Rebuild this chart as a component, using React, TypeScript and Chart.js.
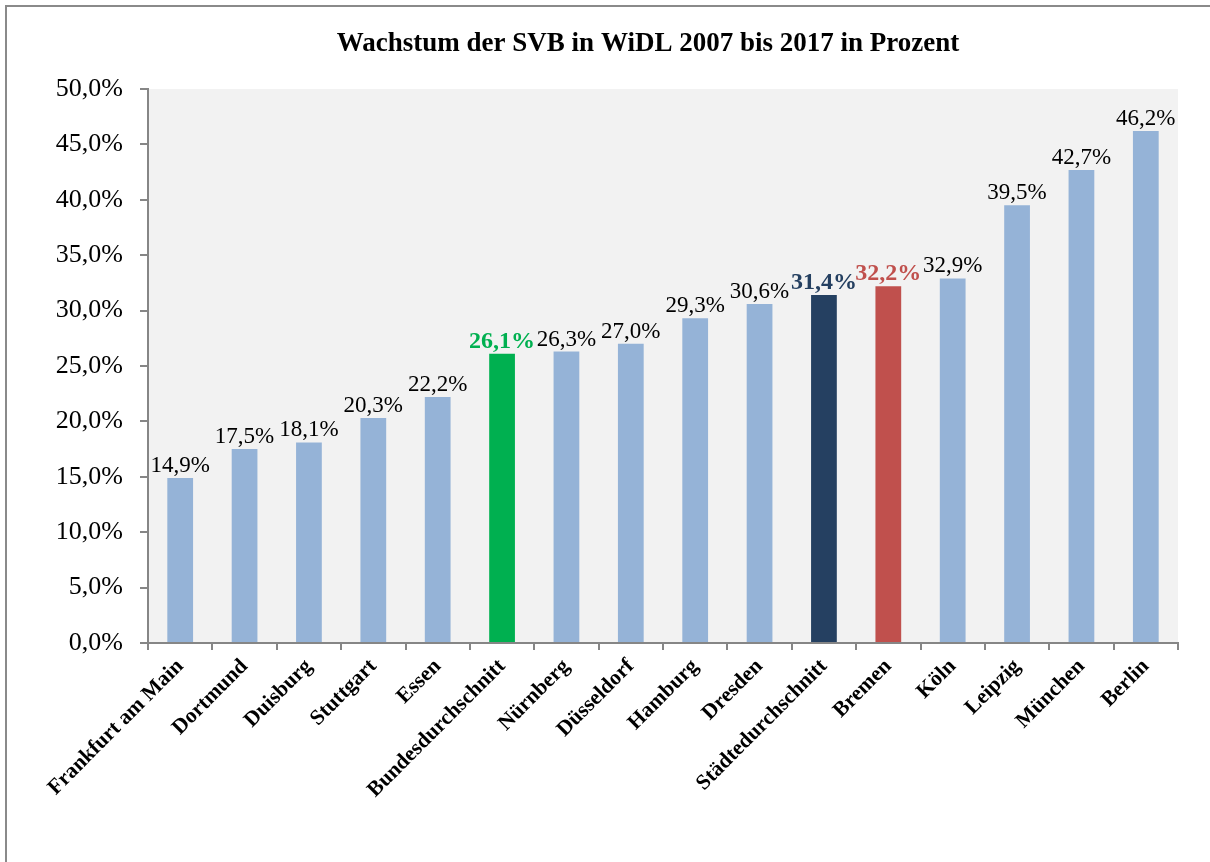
import React, { useEffect, useRef } from "react";
import { Chart, registerables } from "chart.js";

Chart.register(...registerables);

const TITLE = "Wachstum der SVB in WiDL 2007 bis 2017 in Prozent";

const categories = [
  "Frankfurt am Main",
  "Dortmund",
  "Duisburg",
  "Stuttgart",
  "Essen",
  "Bundesdurchschnitt",
  "Nürnberg",
  "Düsseldorf",
  "Hamburg",
  "Dresden",
  "Städtedurchschnitt",
  "Bremen",
  "Köln",
  "Leipzig",
  "München",
  "Berlin",
];

const growthValues = [14.9, 17.5, 18.1, 20.3, 22.2, 26.1, 26.3, 27.0, 29.3, 30.6, 31.4, 32.2, 32.9, 39.5, 42.7, 46.2];

const yTicks = [0, 5, 10, 15, 20, 25, 30, 35, 40, 45, 50];

const BLUE = "#95b3d7";
const GREEN = "#00b050";
const NAVY = "#254061";
const RED = "#c0504d";

const barColors = categories.map((c) =>
  c === "Bundesdurchschnitt" ? GREEN : c === "Städtedurchschnitt" ? NAVY : c === "Bremen" ? RED : BLUE
);
const labelColors = categories.map((c) =>
  c === "Bundesdurchschnitt" ? GREEN : c === "Städtedurchschnitt" ? NAVY : c === "Bremen" ? RED : "#000000"
);
const labelBold = categories.map((c) => c === "Bundesdurchschnitt" || c === "Städtedurchschnitt" || c === "Bremen");

const fmt = (v: number) => v.toFixed(1).replace(".", ",") + "%";

const SERIF = "'Liberation Serif', 'Times New Roman', serif";
const AXIS = "#868686";

const framePlugin = {
  id: "frame",
  beforeDraw(chart: any) {
    const { ctx, chartArea, width, height } = chart;
    ctx.save();
    ctx.fillStyle = "#ffffff";
    ctx.fillRect(0, 0, width, height);
    ctx.fillStyle = "#f2f2f2";
    ctx.fillRect(chartArea.left, chartArea.top, chartArea.right - chartArea.left, chartArea.bottom - chartArea.top);
    ctx.strokeStyle = "#8a8a8a";
    ctx.lineWidth = 2;
    ctx.beginPath();
    ctx.moveTo(6, height + 2);
    ctx.lineTo(6, 6);
    ctx.lineTo(width + 2, 6);
    ctx.stroke();
    ctx.restore();
  },
  afterDraw(chart: any) {
    const { ctx } = chart;
    ctx.save();
    ctx.fillStyle = "#000000";
    ctx.font = `bold 27px ${SERIF}`;
    ctx.textAlign = "center";
    ctx.textBaseline = "alphabetic";
    ctx.fillText(TITLE, 648, 51);
    ctx.restore();
  },
};

const labelPlugin = {
  id: "valueLabels",
  afterDatasetsDraw(chart: any) {
    const { ctx } = chart;
    const meta = chart.getDatasetMeta(0);
    ctx.save();
    ctx.textAlign = "center";
    ctx.textBaseline = "alphabetic";
    meta.data.forEach((bar: any, i: number) => {
      ctx.font = labelBold[i] ? `bold 24px ${SERIF}` : `23px ${SERIF}`;
      ctx.fillStyle = labelColors[i];
      ctx.fillText(fmt(growthValues[i]), bar.x, bar.y - 6);
    });
    ctx.restore();
  },
};

export default function App() {
  const ref = useRef<HTMLCanvasElement>(null);
  useEffect(() => {
    if (!ref.current) return;
    const chart = new Chart(ref.current, {
      type: "bar",
      data: {
        labels: categories,
        datasets: [
          {
            data: growthValues,
            backgroundColor: barColors,
            borderWidth: 0,
            barPercentage: 0.4,
            categoryPercentage: 1,
          },
        ],
      },
      options: {
        responsive: false,
        animation: false,
        devicePixelRatio: 1,
        layout: { padding: { top: 89, right: 32, left: 0, bottom: 0 } },
        plugins: {
          legend: { display: false },
          title: { display: false },
          tooltip: { enabled: false },
        },
        scales: {
          x: {
            offset: true,
            grid: {
              display: true,
              offset: true,
              drawOnChartArea: false,
              drawTicks: true,
              tickLength: 7,
              color: AXIS,
              lineWidth: 2,
            },
            border: { display: true, color: AXIS, width: 2 },
            ticks: {
              autoSkip: false,
              minRotation: 45,
              maxRotation: 45,
              padding: 4,
              color: "#000000",
              font: { family: SERIF, size: 21.5, weight: "bold" },
            },
            afterFit(scale: any) {
              scale.height = 219;
            },
          },
          y: {
            min: 0,
            max: 50,
            afterBuildTicks(scale: any) {
              scale.ticks = yTicks.map((v) => ({ value: v }));
            },
            grid: {
              display: true,
              drawOnChartArea: false,
              drawTicks: true,
              tickLength: 8,
              color: AXIS,
              lineWidth: 2,
            },
            border: { display: true, color: AXIS, width: 2 },
            ticks: {
              padding: 17,
              color: "#000000",
              font: { family: SERIF, size: 26 },
              callback: (v: any) => fmt(Number(v)),
            },
            afterFit(scale: any) {
              scale.width = 148;
            },
          },
        },
      },
      plugins: [framePlugin, labelPlugin],
    });
    return () => chart.destroy();
  }, []);
  return (
    <div style={{ position: "absolute", left: 0, top: 0, width: 1210, height: 862, overflow: "hidden" }}>
      <canvas ref={ref} width={1210} height={862} style={{ display: "block", width: 1210, height: 862 }} />
    </div>
  );
}
